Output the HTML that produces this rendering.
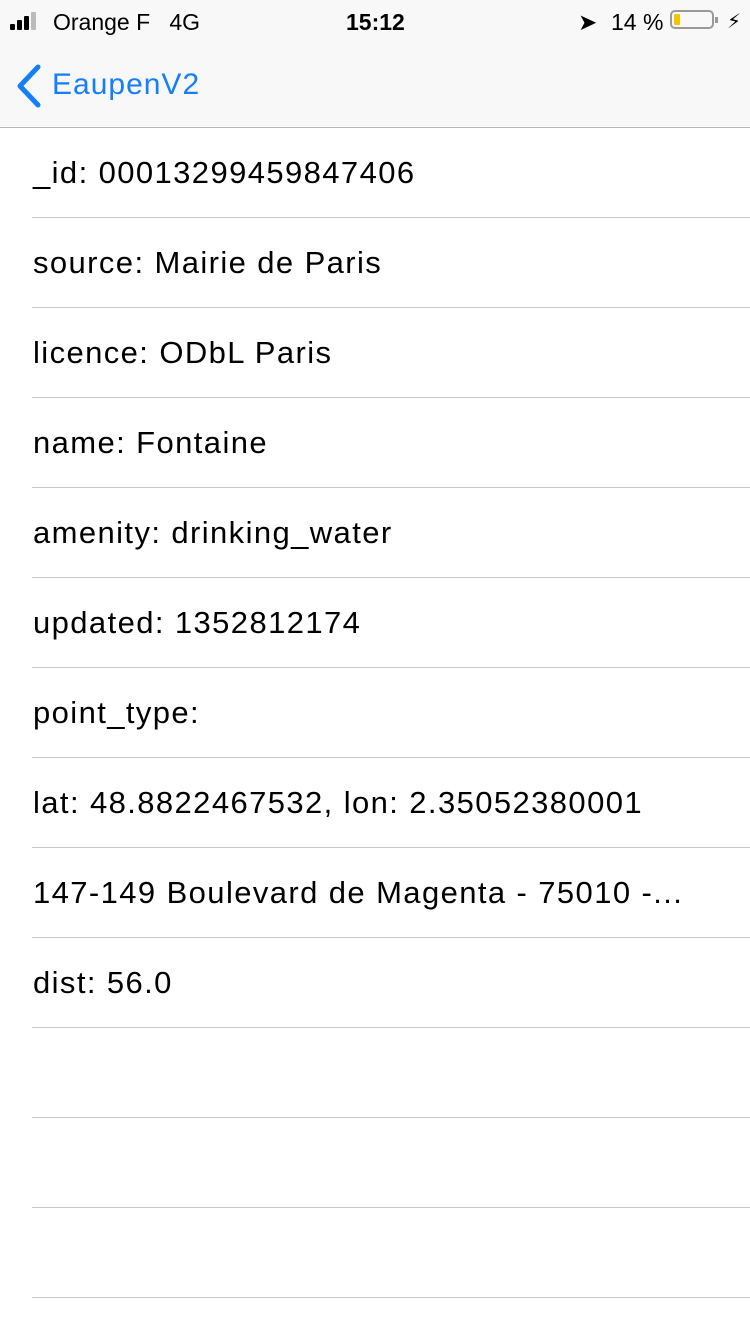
<!DOCTYPE html>
<html><head><meta charset="utf-8">
<style>
body{margin:0;width:750px;height:1334px;background:#fff;font-family:"Liberation Sans",sans-serif;overflow:hidden;position:relative}
#hdr{position:absolute;left:0;top:0;width:750px;height:127px;background:#f8f8f8;border-bottom:1px solid #b8b8b8}
.sb{position:absolute;top:8px;font-size:23px;color:#000;line-height:28px}
.row{position:absolute;left:32px;width:718px;height:89px;border-bottom:1px solid #c8c7cc}
.row span{position:absolute;left:1px;top:28px;font-size:31px;letter-spacing:1.4px;line-height:34px;color:#000;white-space:nowrap}
.bar{position:absolute;bottom:0;width:5px;background:#000;border-radius:1px}
</style></head><body>
<div id="hdr">
  <div style="position:absolute;left:10px;top:12px;width:32px;height:18px">
    <div class="bar" style="left:0;height:6px"></div><div class="bar" style="left:7px;height:10px"></div><div class="bar" style="left:14px;height:14px"></div><div class="bar" style="left:21px;height:18px;background:#bbb"></div>
  </div>
  <div class="sb" style="left:53px">Orange F&nbsp;&nbsp; 4G</div>
  <div class="sb" style="left:346px;font-weight:bold">15:12</div>
  <div class="sb" style="left:578px">&#10148;</div>
  <div class="sb" style="left:611px">14 %</div>
  <div style="position:absolute;left:670px;top:10px;width:44px;height:19px;border:2px solid #999;border-radius:5px;box-sizing:border-box">
    <div style="position:absolute;left:2px;top:2px;width:6px;height:11px;background:#f5c400;border-radius:1px"></div>
    <div style="position:absolute;right:-6px;top:5px;width:3px;height:6px;background:#999"></div>
  </div>
  <div class="sb" style="left:727px;font-size:20px">&#9889;&#xFE0E;</div>
  <div style="position:absolute;left:14px;top:62px;height:50px;width:200px">
    <svg width="30" height="46" style="position:absolute;left:0;top:2px"><polyline points="24,3 6,22 24,41" fill="none" stroke="#157efb" stroke-width="5" stroke-linecap="round" stroke-linejoin="round"/></svg>
    <span style="position:absolute;left:38px;top:6px;font-size:30px;letter-spacing:1px;color:#157efb">EaupenV2</span>
  </div>
</div>
<div class="row" style="top:128px"><span>_id: 00013299459847406</span></div>
<div class="row" style="top:218px"><span>source: Mairie de Paris</span></div>
<div class="row" style="top:308px"><span>licence: ODbL Paris</span></div>
<div class="row" style="top:398px"><span>name: Fontaine</span></div>
<div class="row" style="top:488px"><span>amenity: drinking_water</span></div>
<div class="row" style="top:578px"><span>updated: 1352812174</span></div>
<div class="row" style="top:668px"><span>point_type:</span></div>
<div class="row" style="top:758px"><span>lat: 48.8822467532, lon: 2.35052380001</span></div>
<div class="row" style="top:848px"><span>147-149 Boulevard de Magenta - 75010 -...</span></div>
<div class="row" style="top:938px"><span>dist: 56.0</span></div>
<div class="row" style="top:1028px"></div>
<div class="row" style="top:1118px"></div>
<div class="row" style="top:1208px"></div>
</body></html>
